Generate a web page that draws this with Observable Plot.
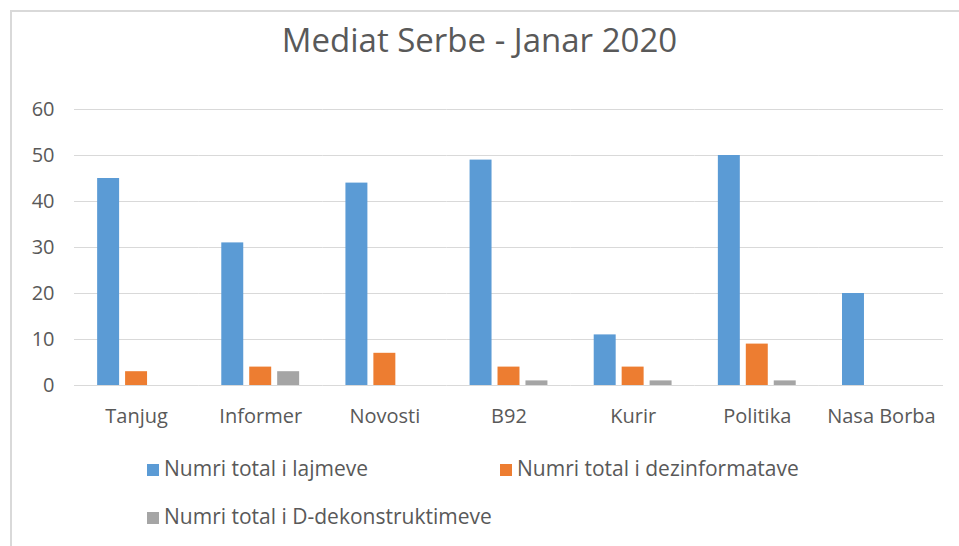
<!DOCTYPE html>
<html>
<head>
<meta charset="utf-8">
<script src="https://cdn.jsdelivr.net/npm/d3@7"></script>
<script src="https://cdn.jsdelivr.net/npm/@observablehq/plot@0.6"></script>
<style>
  html, body { margin: 0; padding: 0; background: #ffffff; }
  #wrap { position: relative; width: 959px; height: 546px; overflow: hidden; font-family: "Open Sans", sans-serif; color: #595959; }
  #frame { position: absolute; left: 10px; top: 10px; right: -5px; bottom: -5px; border-top: 2px solid #d9d9d9; border-left: 2px solid #d9d9d9; }
  #title { position: absolute; left: 0; width: 959px; top: 23px; text-align: center; font-size: 33px; line-height: 33px; white-space: nowrap; }
  #chart { position: absolute; left: 0; top: 90px; }
  .leg { position: absolute; font-size: 21px; line-height: 21px; white-space: nowrap; }
  .sw { display: inline-block; width: 12px; height: 12px; margin-right: 5px; vertical-align: baseline; }
</style>
</head>
<body>
<div id="wrap">
  <div id="frame"></div>
  <div id="title"></div>
  <div id="chart"></div>
  <div id="legend"></div>
</div>
<script>
const titleText = "Mediat Serbe - Janar 2020";
const categories = ["Tanjug", "Informer", "Novosti", "B92", "Kurir", "Politika", "Nasa Borba"];
const seriesNames = ["Numri total i lajmeve", "Numri total i dezinformatave", "Numri total i D-dekonstruktimeve"];
const lajme = [45, 31, 44, 49, 11, 50, 20];
const dezinformata = [3, 4, 7, 4, 4, 9, 0];
const dekonstruktime = [0, 3, 0, 1, 1, 1, 0];
const yTicks = [0, 10, 20, 30, 40, 50, 60];
const colors = ["#5B9BD5", "#ED7D31", "#A5A5A5"];

const seriesValues = [lajme, dezinformata, dekonstruktime];
const rows = [];
categories.forEach((c, i) => {
  seriesNames.forEach((s, j) => {
    rows.push({category: c, series: s, value: seriesValues[j][i]});
  });
});

document.getElementById("title").textContent = titleText;

const chart = Plot.plot({
  width: 959,
  height: 350,
  marginTop: 19,
  marginBottom: 55,
  marginLeft: 74,
  marginRight: 16,
  style: {fontFamily: "Open Sans, sans-serif", fontSize: "20px", color: "#595959", background: "transparent", overflow: "visible"},
  facet: {data: rows, x: "category"},
  fx: {domain: categories, padding: 0, round: false, label: null, axis: "bottom", tickSize: 0, tickPadding: 23},
  x: {domain: seriesNames, paddingInner: 0.214, paddingOuter: 0.828, round: false, axis: null},
  y: {domain: [0, 60], ticks: yTicks, tickSize: 0, tickPadding: 20, label: null, tickFormat: d => String(d)},
  color: {domain: seriesNames, range: colors},
  marks: [
    Plot.ruleY(yTicks, {y: d => d, stroke: "#d9d9d9", strokeWidth: 1.2}),
    Plot.barY(rows, {x: "series", y: "value", fill: "series"})
  ]
});
document.getElementById("chart").appendChild(chart);

const legend = document.getElementById("legend");
const legendPos = [[147, 458], [500, 458], [147, 506]];
seriesNames.forEach((s, i) => {
  const item = document.createElement("div");
  item.className = "leg";
  item.style.left = legendPos[i][0] + "px";
  item.style.top = legendPos[i][1] + "px";
  const sw = document.createElement("span");
  sw.className = "sw";
  sw.style.background = colors[i];
  item.appendChild(sw);
  item.appendChild(document.createTextNode(s));
  legend.appendChild(item);
});
</script>
</body>
</html>
